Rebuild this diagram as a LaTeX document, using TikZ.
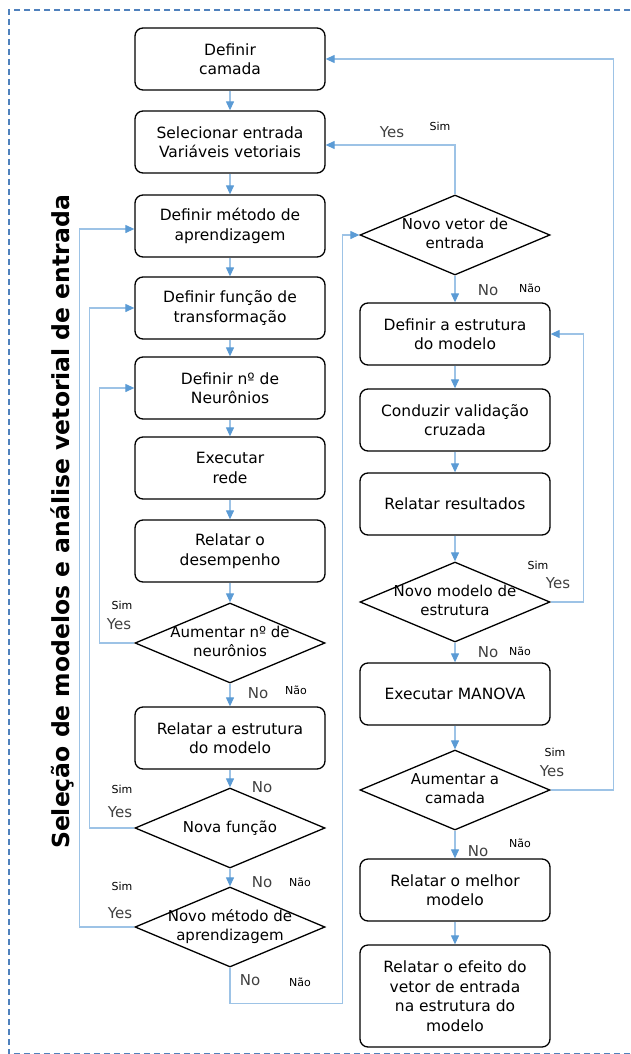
\documentclass[tikz,border=0pt]{standalone}
\usepackage{fontspec}
\setmainfont{DejaVu Sans}
\usetikzlibrary{shapes.geometric,arrows.meta}
\definecolor{linkblue}{RGB}{157,195,230}
\definecolor{tipblue}{RGB}{91,155,213}
\definecolor{frameblue}{RGB}{79,129,189}
\definecolor{yesgray}{RGB}{64,64,64}
\tikzset{
	box/.style={draw, line width=1.3pt, rounded corners=8pt, minimum width=190pt,
		minimum height=62pt, align=center, inner sep=0pt,
		font=\fontsize{15.5}{19.5}\selectfont},
	decision/.style={diamond, draw, line width=1.3pt, minimum width=190pt,
		minimum height=80pt, inner sep=0pt, font=\fontsize{15}{19}\selectfont},
	link/.style={draw=linkblue, line width=1.2pt,
		-{Triangle[length=9pt,width=8pt,color=tipblue]}},
	yesno/.style={font=\fontsize{15}{15}\selectfont, text=yesgray, inner sep=0pt},
	simnao/.style={font=\fontsize{11}{11}\selectfont, inner sep=0pt},
}
\newcommand{\dtxt}[1]{\smash{\makebox[0pt]{\raisebox{-4pt}{\begin{tabular}{@{}c@{}}#1\end{tabular}}}}}

\begin{document}
\begin{tikzpicture}[x=1pt,y=-1pt]
	\useasboundingbox (0,0) rectangle (630,1054);
	\draw[frameblue, line width=2pt, dash pattern=on 6pt off 4pt] (650,10) -| (9,1054) -- (650,1054);
	\node[rotate=90, font=\bfseries\fontsize{23.5}{23.5}\selectfont] (titulo) at (62,522)
		{Seleção de modelos e análise vetorial de entrada};
	% coluna da esquerda
	\node[box] (camada) at (230,59) {Definir\\camada};
	\node[box] (selec) at (230,142) {Selecionar entrada\\Variáveis vetoriais};
	\node[box] (metodo) at (230,226) {Definir método de\\aprendizagem};
	\node[box] (funcao) at (230,308) {Definir função de\\transformação};
	\node[box] (neuron) at (230,388) {Definir nº de\\Neurônios};
	\node[box] (rede) at (230,468) {Executar\\rede};
	\node[box] (desemp) at (230,551) {Relatar o\\desempenho};
	\node[decision] (aumN) at (230,643) {\dtxt{Aumentar nº de\\neurônios}};
	\node[box] (relEst) at (230,738) {Relatar a estrutura\\do modelo};
	\node[decision] (novaF) at (230,828) {\dtxt{Nova função}};
	\node[decision] (novoM) at (230,927) {\dtxt{Novo método de\\aprendizagem}};
	% coluna da direita
	\node[decision] (novoV) at (455,235) {\dtxt{Novo vetor de\\entrada}};
	\node[box] (estrut) at (455,334) {Definir a estrutura\\do modelo};
	\node[box] (valid) at (455,420) {Conduzir validação\\cruzada};
	\node[box] (result) at (455,504) {Relatar resultados};
	\node[decision] (novoMod) at (455,602) {\dtxt{Novo modelo de\\estrutura}};
	\node[box] (manova) at (455,694) {Executar MANOVA};
	\node[decision] (aumC) at (455,790) {\dtxt{Aumentar a\\camada}};
	\node[box] (melhor) at (455,890) {Relatar o melhor\\modelo};
	\node[box, minimum height=102pt] (efeito) at (455,996)
		{Relatar o efeito do\\vetor de entrada\\na estrutura do\\modelo};
	\foreach \a/\b in {camada/selec,selec/metodo,metodo/funcao,funcao/neuron,
		neuron/rede,rede/desemp,desemp/aumN,aumN/relEst,relEst/novaF,novaF/novoM,
		novoV/estrut,estrut/valid,valid/result,result/novoMod,novoMod/manova,
		manova/aumC,aumC/melhor,melhor/efeito}{
		\draw[link] (\a) -- (\b);
	}
	\draw[link] (aumN.west) -- ++(-35,0) |- (neuron.west);
	\draw[link] (novaF.west) -- ++(-45,0) |- (funcao.west);
	\draw[link] (novoM.west) -- ++(-55,0) |- ([yshift=-3pt]metodo.west);
	\draw[link] (novoM.south) -- ++(0,36) -| ([xshift=-17pt]novoV.west) -- (novoV.west);
	\draw[link] (novoV.north) |- ([yshift=-3pt]selec.east);
	\draw[link] (novoMod.east) -- ++(33,0) |- (estrut.east);
	\draw[link] (aumC.east) -- ++(63,0) |- (camada.east);
	% rotulos
	\node[yesno] (yesV) at (392,132) {Yes};
	\node[simnao] (simV) at (440,126) {Sim};
	\node[yesno] (noV) at (488,290) {No};
	\node[simnao] (naoV) at (530,288) {Não};
	\node[simnao] (simN) at (122,605) {Sim};
	\node[yesno] (yesN) at (119,624) {Yes};
	\node[yesno] (noN) at (258,693) {No};
	\node[simnao] (naoN) at (296,690) {Não};
	\node[yesno] (noE) at (262,787) {No};
	\node[simnao] (simF) at (122,789) {Sim};
	\node[yesno] (yesF) at (120,812) {Yes};
	\node[yesno] (noF) at (262,882) {No};
	\node[simnao] (naoF) at (300,882) {Não};
	\node[simnao] (simM) at (122,886) {Sim};
	\node[yesno] (yesM) at (120,913) {Yes};
	\node[yesno] (noM) at (250,980) {No};
	\node[simnao] (naoM) at (300,982) {Não};
	\node[simnao] (simMod) at (538,565) {Sim};
	\node[yesno] (yesMod) at (558,583) {Yes};
	\node[yesno] (noMod) at (488,652) {No};
	\node[simnao] (naoMod) at (520,651) {Não};
	\node[simnao] (simC) at (555,752) {Sim};
	\node[yesno] (yesC) at (552,771) {Yes};
	\node[yesno] (noC) at (478,851) {No};
	\node[simnao] (naoC) at (520,843) {Não};
\end{tikzpicture}
\end{document}
